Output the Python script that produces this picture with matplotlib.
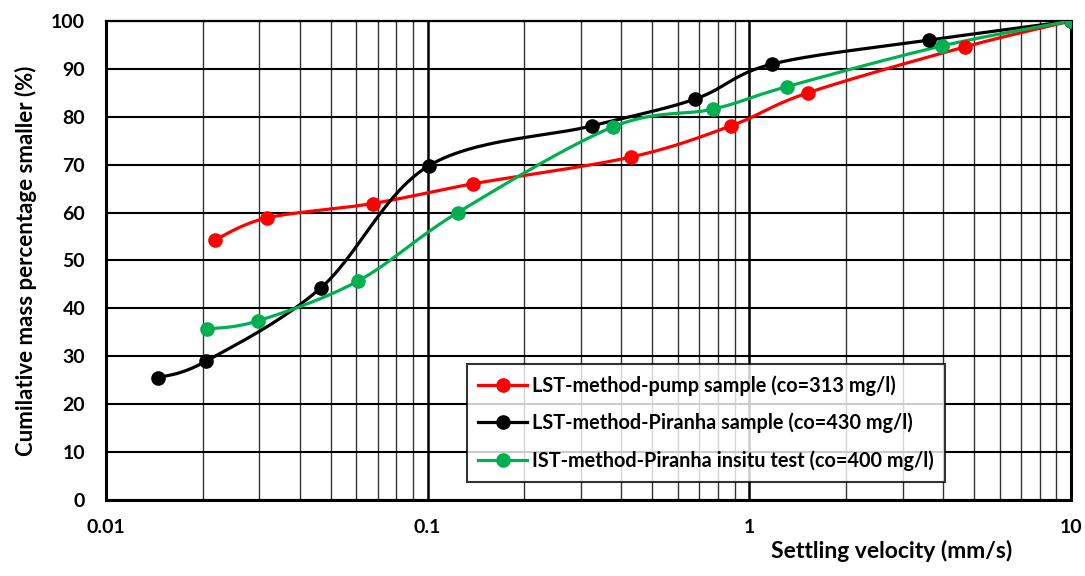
import numpy as np
import matplotlib
matplotlib.use('Agg')
import matplotlib.pyplot as plt
from matplotlib.ticker import LogLocator, FixedLocator, NullFormatter

plt.rcParams['font.family'] = ['Lato', 'DejaVu Sans']
plt.rcParams['font.weight'] = 'bold'

# data
pump_v = [0.0218, 0.0317, 0.0676, 0.138, 0.429, 0.877, 1.52, 4.68, 10]
pump_p = [54.3, 58.9, 61.9, 66.0, 71.6, 78.1, 85.0, 94.6, 100]
piranha_v = [0.0145, 0.0205, 0.0466, 0.101, 0.324, 0.678, 1.175, 3.61, 10]
piranha_p = [25.5, 29.0, 44.3, 69.8, 78.1, 83.7, 91.0, 96.0, 100]
insitu_v = [0.0206, 0.0297, 0.0607, 0.124, 0.377, 0.771, 1.309, 3.97, 10]
insitu_p = [35.7, 37.4, 45.7, 60.0, 77.9, 81.6, 86.3, 94.8, 100]

labels = ['LST-method-pump sample (co=313 mg/l)',
          'LST-method-Piranha sample (co=430 mg/l)',
          'IST-method-Piranha insitu test (co=400 mg/l)']
colors = ['#ff0000', '#000000', '#00b050']


def smooth(xs, ys, n=30):
    # catmull-rom through the points, done in screen-like units (like excel)
    u = (np.log10(xs) + 2) / 3 * 965
    v = np.array(ys) / 100 * 479
    pts = np.column_stack([u, v])
    pts = np.vstack([pts[0], pts, pts[-1]])
    out = []
    for i in range(1, len(pts) - 2):
        p0, p1, p2, p3 = pts[i - 1], pts[i], pts[i + 1], pts[i + 2]
        t = np.linspace(0, 1, n)[:, None]
        c = 0.5 * ((2 * p1) + (-p0 + p2) * t + (2 * p0 - 5 * p1 + 4 * p2 - p3) * t**2
                   + (-p0 + 3 * p1 - 3 * p2 + p3) * t**3)
        out.append(c)
    c = np.vstack(out)
    return 10 ** (c[:, 0] / 965 * 3 - 2), c[:, 1] / 479 * 100


fig = plt.figure(figsize=(10.85, 5.76), dpi=100)
ax = fig.add_axes([0.0977, 0.132, 0.8893, 0.8315])

for xs, ys, col, lab in zip([pump_v, piranha_v, insitu_v], [pump_p, piranha_p, insitu_p], colors, labels):
    sx, sy = smooth(xs, ys)
    ax.plot(sx, sy, color=col, lw=2.3, zorder=3)
    ax.plot(xs, ys, 'o', color=col, ms=9.5, zorder=4)
    ax.plot([], [], '-o', color=col, lw=2.3, ms=9.5, label=lab)

ax.set_xscale('log')
ax.set_xlim(0.01, 10)
ax.set_ylim(0, 100)
ax.set_yticks(range(0, 101, 10))
ax.xaxis.set_major_locator(FixedLocator([0.01, 0.1, 1, 10]))
ax.set_xticklabels(['0.01', '0.1', '1', '10'])
ax.xaxis.set_minor_locator(LogLocator(base=10, subs=np.arange(2, 10)))
ax.xaxis.set_minor_formatter(NullFormatter())

ax.grid(True, which='major', axis='x', color='black', lw=1.8)
ax.grid(True, which='minor', axis='x', color='#333333', lw=1.0)
ax.grid(True, which='major', axis='y', color='black', lw=1.5)
ax.tick_params(which='both', length=0, labelsize=14)
ax.tick_params(axis='y', pad=15)
ax.tick_params(axis='x', pad=14)
for s in ax.spines.values():
    s.set_linewidth(2.2)
    s.set_color('black')
ax.spines['top'].set_linewidth(1.6)

ax.set_ylabel('Cumilative mass percentage smaller (%)', fontsize=16, fontweight='bold')
ax.yaxis.set_label_coords(-0.0715, 0.5)
fig.text(0.822, 0.043, 'Settling velocity (mm/s)', fontsize=16.5, fontweight='bold',
         ha='center', va='center')

leg = ax.legend(loc='lower left', bbox_to_anchor=(0.374, 0.038), fontsize=14.3, frameon=True,
                fancybox=False, edgecolor='black', handlelength=2.5, handletextpad=0.25,
                borderpad=0.55, labelspacing=0.85, borderaxespad=0)
leg.get_frame().set_linewidth(1.5)
leg.set_zorder(5)

fig.savefig('out.png', dpi=100)
